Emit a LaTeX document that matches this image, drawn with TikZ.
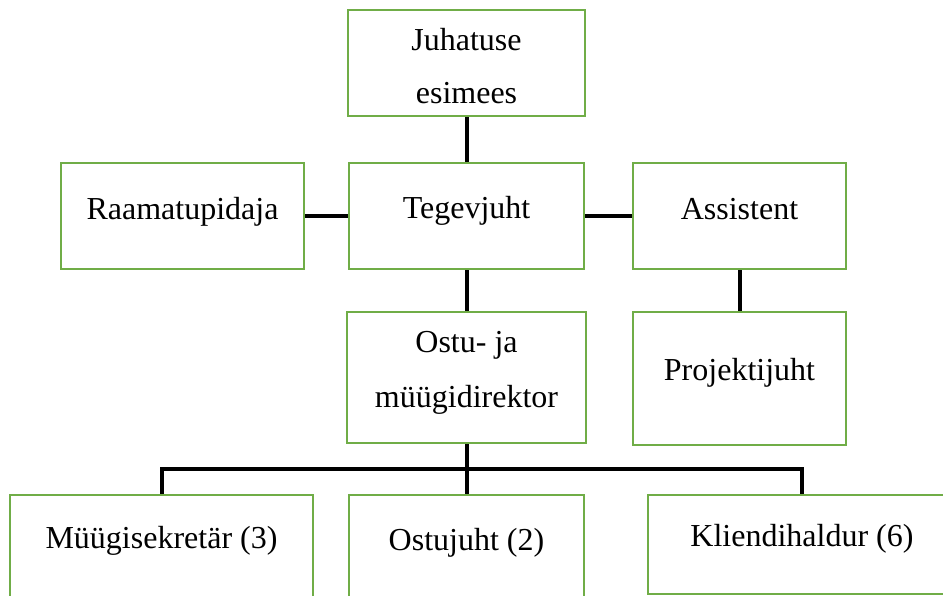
\documentclass[tikz,border=0pt]{standalone}
\usepackage{fontspec}
\setmainfont{Liberation Serif}
\definecolor{boxgreen}{HTML}{70AD47}
\begin{document}
\begin{tikzpicture}[x=1pt,y=-1pt,
  box/.style={draw=boxgreen, line width=2.6pt, fill=none, rectangle, inner sep=0pt},
  txt/.style={anchor=base, inner sep=0pt, font=\fontsize{32}{38}\selectfont},
  conn/.style={draw=black, line width=4pt}]
\useasboundingbox (0,0) rectangle (943,595);
\clip (0,0) rectangle (943,595);
% boxes
\node[box, minimum width=237pt, minimum height=106pt] (j) at (466.5,63) {};
\node[box, minimum width=235pt, minimum height=106pt] (t) at (466.5,216) {};
\node[box, minimum width=243pt, minimum height=106pt] (r) at (182.5,216) {};
\node[box, minimum width=213pt, minimum height=106pt] (a) at (739.5,216) {};
\node[box, minimum width=239pt, minimum height=131pt] (o) at (466.5,377.5) {};
\node[box, minimum width=213pt, minimum height=133pt] (p) at (739.5,378.5) {};
\node[box, minimum width=303pt, minimum height=130pt] (ms) at (161.5,560) {};
\node[box, minimum width=235pt, minimum height=130pt] (oj) at (466.5,560) {};
\node[box, minimum width=308pt, minimum height=99pt] (kh) at (802,544.5) {};
% texts
\node[txt] (jT1) at (466.5,50) {Juhatuse};
\node[txt] (jT2) at (466.5,103) {esimees};
\node[txt] (tT) at (466.5,218) {Tegevjuht};
\node[txt] (rT) at (182.5,219) {Raamatupidaja};
\node[txt] (aT) at (739.5,219) {Assistent};
\node[txt] (oT1) at (466.5,352) {Ostu- ja};
\node[txt] (oT2) at (466.5,407) {müügidirektor};
\node[txt] (pT) at (739.5,380) {Projektijuht};
\node[txt] (msT) at (161.5,548) {Müügisekretär (3)};
\node[txt] (ojT) at (466.5,550) {Ostujuht (2)};
\node[txt] (khT) at (802,546) {Kliendihaldur (6)};
% connectors
\coordinate (bus) at (466.5,469);
\draw[conn] (j.south) -- (t.north);
\draw[conn] (r.east) -- (t.west);
\draw[conn] (t.east) -- (a.west);
\draw[conn] (t.south) -- (o.north);
\draw[conn] (a.south) -- (p.north);
\draw[conn] (o.south) -- (oj.north);
\draw[conn] (ms.north) |- (bus) -| (kh.north);
\end{tikzpicture}
\end{document}
